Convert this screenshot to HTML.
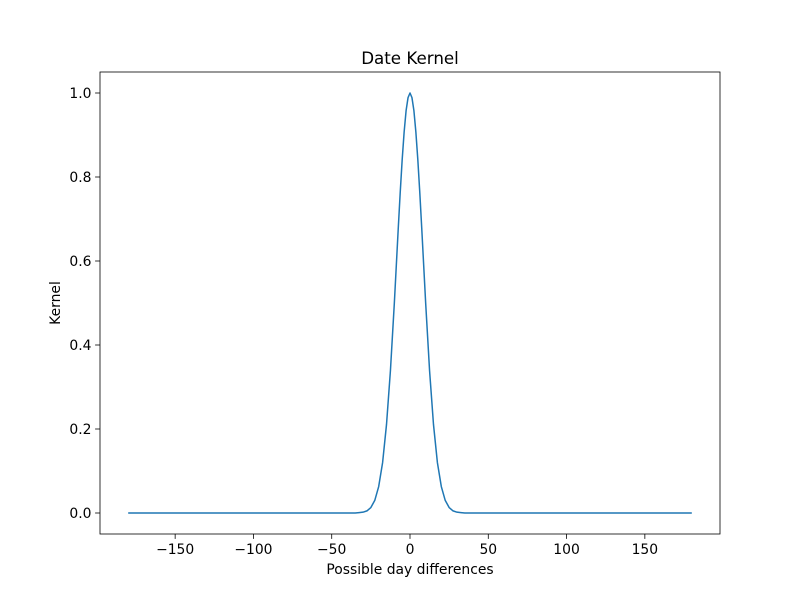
<!DOCTYPE html>
<html><head><meta charset="utf-8"><style>
body{margin:0;background:#fff;}
svg text{font-family:"DejaVu Sans","Liberation Sans",sans-serif;fill:#000;}
</style></head><body>
<svg id="c" width="800" height="600">
<rect width="800" height="600" fill="#fff"/>
</svg>
<script>
const xTicks=[-150,-100,-50,0,50,100,150];
const yTicks=[0.0,0.2,0.4,0.6,0.8,1.0];
const yTickLabels=["0.0","0.2","0.4","0.6","0.8","1.0"];
const xValues=[-180,-40,-35,-32.5,-30,-27.5,-25,-22.5,-20,-17.5,-15,-12.5,-10,-8.75,-7.5,-6.25,-5,-3.75,-2.5,-1.25,0,1.25,2.5,3.75,5,6.25,7.5,8.75,10,12.5,15,17.5,20,22.5,25,27.5,30,32.5,35,40,180];
const kernelValues=[0,0,0,0.001,0.002,0.005,0.013,0.03,0.063,0.12,0.211,0.339,0.5,0.589,0.678,0.763,0.841,0.907,0.958,0.989,1,0.989,0.958,0.907,0.841,0.763,0.678,0.589,0.5,0.339,0.211,0.12,0.063,0.03,0.013,0.005,0.002,0.001,0,0,0];
const L=100,R=720,T=72,B=534,xmin=-198,xmax=198,ymin=-0.05,ymax=1.05;
const sx=v=>L+(v-xmin)/(xmax-xmin)*(R-L);
const sy=v=>B-(v-ymin)/(ymax-ymin)*(B-T);
const svg=document.getElementById('c');const NS='http://www.w3.org/2000/svg';
function mk(t,a,txt){const e=document.createElementNS(NS,t);for(const k in a)e.setAttribute(k,a[k]);if(txt!=null)e.textContent=txt;svg.appendChild(e);return e;}
let d=xValues.map((x,i)=>(i?'L':'M')+sx(x).toFixed(2)+','+sy(kernelValues[i]).toFixed(2)).join('');
let p=mk('path',{d:d,fill:'none',stroke:'#1f77b4','stroke-width':1.5,'stroke-linejoin':'round'});


let f=mk('rect',{x:L,y:T,width:R-L,height:B-T,fill:'none',stroke:'#000','stroke-width':0.8});


xTicks.forEach(v=>{const x=sx(v);mk('line',{x1:x,x2:x,y1:B,y2:B+4.9,stroke:'#000','stroke-width':0.8});
const t=mk('text',{x:x,y:B+20,'text-anchor':'middle','font-size':13.9},(v<0?'\u2212':'')+Math.abs(v));

});
yTicks.forEach((v,i)=>{const y=sy(v);mk('line',{x1:L,x2:L-4.9,y1:y,y2:y,stroke:'#000','stroke-width':0.8});
const t=mk('text',{x:L-8.5,y:y+5,'text-anchor':'end','font-size':13.9},yTickLabels[i]);

});
let ti=mk('text',{x:410,y:64,'text-anchor':'middle','font-size':16.7},'Date Kernel');


let xl=mk('text',{x:410,y:574,'text-anchor':'middle','font-size':13.9},'Possible day differences');


let yl=mk('text',{x:60,y:303,'text-anchor':'middle','font-size':13.9,transform:'rotate(-90 60 303)'},'Kernel');


</script>
</body></html>
